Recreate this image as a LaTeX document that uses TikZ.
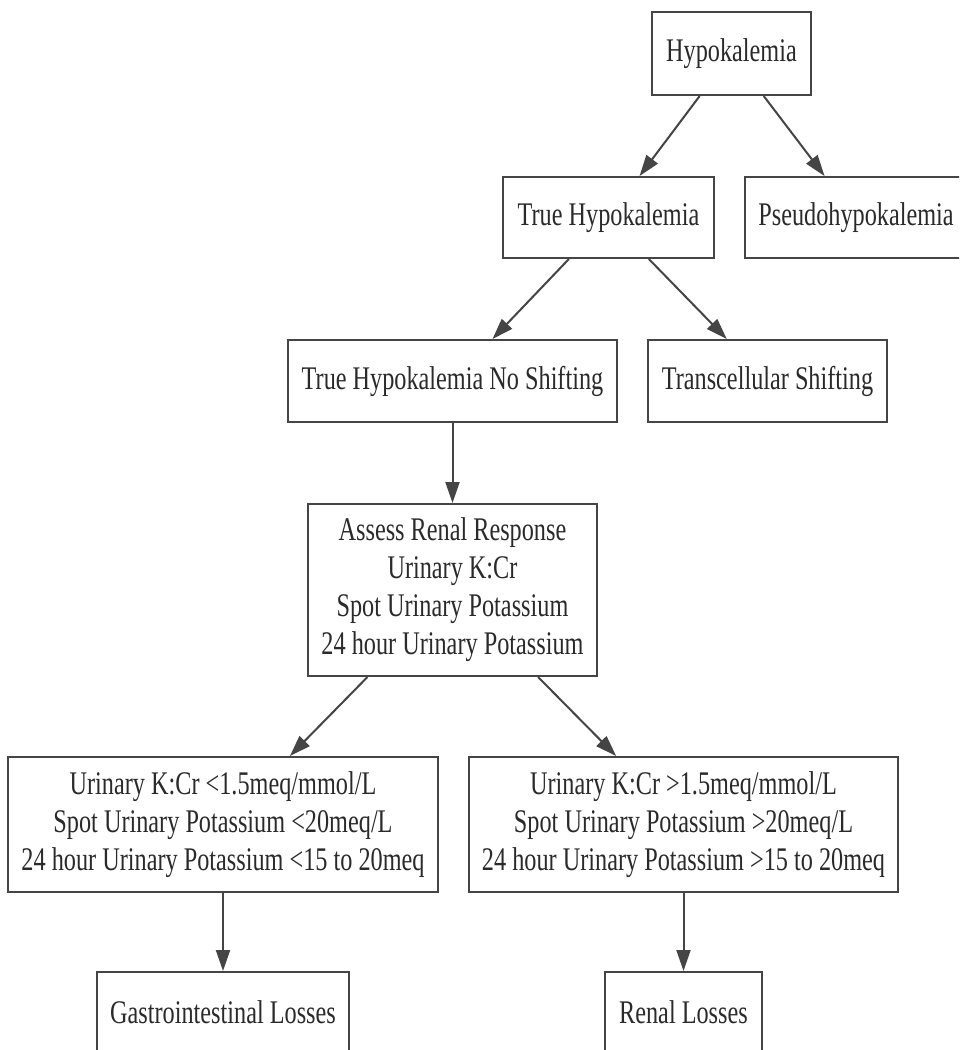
\documentclass[tikz,border=0pt]{standalone}
\usepackage{fontspec}
\setmainfont{Liberation Serif}[FakeStretch=0.735]
\usetikzlibrary{arrows.meta}
\definecolor{linec}{HTML}{454545}
\definecolor{textc}{HTML}{2A2A2A}
\begin{document}
\begin{tikzpicture}[x=1pt,y=-1pt,
  box/.style={draw=linec, line width=2pt, fill=white, align=center, inner sep=0pt,
    text=textc, font=\fontsize{33}{38}\selectfont},
  conn/.style={draw=linec, line width=2pt, -{Triangle[length=21pt,width=14pt]}}]
\clip (0,0) rectangle (959,1050);
\useasboundingbox (0,0) rectangle (959,1050);
\fill[white] (0,0) rectangle (959,1050);
\node[box, minimum width=159pt, minimum height=83pt] (hypo) at (731.5,53.5) {Hypokalemia};
\node[box, minimum width=211pt, minimum height=81pt] (true) at (608.5,217.5) {True Hypokalemia};
\node[box, minimum width=222pt, minimum height=81pt] (pseudo) at (856,217.5) {Pseudohypokalemia};
\node[box, minimum width=329pt, minimum height=82pt] (tns) at (452.5,381) {True Hypokalemia No Shifting};
\node[box, minimum width=239pt, minimum height=82pt] (trans) at (767.5,381) {Transcellular Shifting};
\node[box, minimum width=289pt, minimum height=172pt] (assess) at (452.5,590) {Assess Renal Response\\Urinary K:Cr\\Spot Urinary Potassium\\24 hour Urinary Potassium};
\node[box, minimum width=430pt, minimum height=135pt] (low) at (223,824.5) {Urinary K:Cr <1.5meq/mmol/L\\Spot Urinary Potassium <20meq/L\\24 hour Urinary Potassium <15 to 20meq};
\node[box, minimum width=429pt, minimum height=135pt] (high) at (683.5,824.5) {Urinary K:Cr >1.5meq/mmol/L\\Spot Urinary Potassium >20meq/L\\24 hour Urinary Potassium >15 to 20meq};
\node[box, minimum width=252pt, minimum height=81pt] (gi) at (223,1012.5) {Gastrointestinal Losses};
\node[box, minimum width=157pt, minimum height=81pt] (renal) at (683.5,1012.5) {Renal Losses};
\draw[conn] (hypo) -- (true);
\draw[conn] (hypo) -- (pseudo);
\draw[conn] (true) -- (tns);
\draw[conn] (true) -- (trans);
\draw[conn] (tns) -- (assess);
\draw[conn] (assess) -- (low);
\draw[conn] (assess) -- (high);
\draw[conn] (low) -- (gi);
\draw[conn] (high) -- (renal);
\end{tikzpicture}
\end{document}
